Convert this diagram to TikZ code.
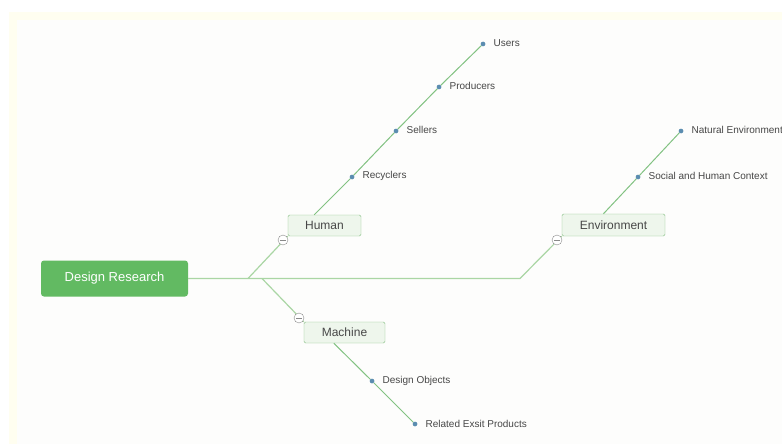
\documentclass[tikz,border=0pt]{standalone}
\usepackage{fontspec}
\setmainfont{Liberation Sans}
\usetikzlibrary{positioning}

\definecolor{rootgreen}{HTML}{62BA62}
\definecolor{topicfill}{HTML}{EEF6EC}
\definecolor{topicline}{HTML}{86BF84}
\definecolor{trunkline}{HTML}{AAD6A4}
\definecolor{twigline}{HTML}{82C282}
\definecolor{dotblue}{HTML}{5B8DB0}
\definecolor{foldgray}{HTML}{8A8A8A}
\definecolor{textgray}{HTML}{474747}
\definecolor{framebg}{HTML}{FFFEF0}
\definecolor{paperbg}{HTML}{FDFDFC}

\tikzset{
  root/.style={rectangle, rounded corners=3pt, fill=rootgreen, text=white,
    font=\fontsize{13}{15}\selectfont, minimum width=147pt, minimum height=36pt},
  topic/.style={rectangle, rounded corners=1.5pt, draw=topicline, fill=topicfill,
    text=textgray, font=\fontsize{12}{14}\selectfont, minimum height=21pt},
  trunk/.style={draw=trunkline, line width=1.2pt},
  twig/.style={draw=twigline, line width=1pt},
  leafdot/.style={circle, fill=dotblue, minimum size=4.5pt, inner sep=0pt},
  leaf/.style={text=textgray, font=\fontsize{10}{12}\selectfont, inner sep=1pt, anchor=west},
  fold/.style={circle, draw=foldgray, fill=white, minimum size=10pt, inner sep=0pt,
    path picture={\draw[foldgray, line width=0.8pt]
      ([xshift=-3pt]path picture bounding box.center) --
      ([xshift=3pt]path picture bounding box.center);}}
}

\begin{document}
\begin{tikzpicture}[x=1pt, y=-1pt]
    % 1. Background
    \clip (0,0) rectangle (782,444);
    \fill[white] (0,0) rectangle (782,444);
    \fill[framebg] (9,12) rectangle (782,444);
    \fill[paperbg] (17,20) rectangle (782,444);

    % 2. Central topic and main topics
    \node[root] (dr) at (114.5,278.5) {Design Research};
    \node[topic, minimum width=73pt] (human) at (324.5,225.5) {Human};
    \node[topic, minimum width=81pt] (machine) at (344.5,332.5) {Machine};
    \node[topic, minimum width=103pt, minimum height=22pt] (env) at (613.5,225) {Environment};

    % 3. Branch points and fold buttons
    \coordinate (hsplit) at (248,278.5);
    \coordinate (msplit) at (262,278.5);
    \coordinate (esplit) at (520,278.5);

    \draw[trunk] (dr.east) -- (esplit) -- (env.south west);
    \draw[trunk] (hsplit) -- (human.south west);
    \draw[trunk] (msplit) -- (machine.north west);

    \node[fold] (hfold) at (283,240) {};
    \node[fold] (mfold) at (299,318) {};
    \node[fold] (efold) at (557,240) {};

    % 4. Subtopics of Human
    \node[leafdot] (recyclers) at (352,177) {};
    \node[leafdot] (sellers) at (396,131) {};
    \node[leafdot] (producers) at (439,87) {};
    \node[leafdot] (users) at (483,44) {};
    \draw[twig] (human.134) -- (recyclers) -- (sellers) -- (producers) -- (users);
    \foreach \d in {recyclers, sellers, producers, users}
        \node[leafdot] at (\d) {};
    \node[leaf, right=7pt of recyclers, yshift=1pt] (recyclerslbl) {Recyclers};
    \node[leaf, right=7pt of sellers, yshift=1pt] (sellerslbl) {Sellers};
    \node[leaf, right=7pt of producers, yshift=1pt] (producerslbl) {Producers};
    \node[leaf, right=7pt of users, yshift=1pt] (userslbl) {Users};

    % 5. Subtopics of Environment
    \node[leafdot] (social) at (638,177) {};
    \node[leafdot] (natural) at (681,131) {};
    \draw[twig] (env.132) -- (social) -- (natural);
    \node[leafdot] at (social) {};
    \node[leafdot] at (natural) {};
    \node[leaf, right=7pt of social, yshift=1pt] (sociallbl) {Social and Human Context};
    \node[leaf, right=7pt of natural, yshift=1pt] (naturallbl) {Natural Environment};

    % 6. Subtopics of Machine
    \node[leafdot] (objects) at (372,381) {};
    \node[leafdot] (related) at (415,424) {};
    \draw[twig] (machine.225) -- (objects) -- (related);
    \node[leafdot] at (objects) {};
    \node[leafdot] at (related) {};
    \node[leaf, right=7pt of objects] (objectslbl) {Design Objects};
    \node[leaf, right=7pt of related] (relatedlbl) {Related Exsit Products};
\end{tikzpicture}
\end{document}
